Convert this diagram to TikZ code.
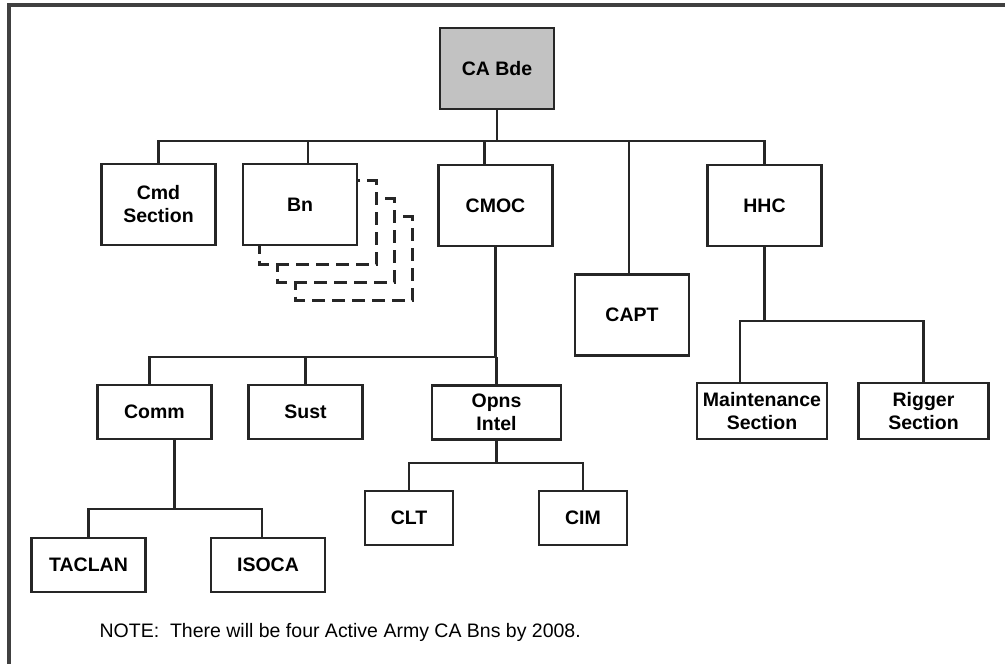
\documentclass[tikz,border=0pt]{standalone}
\usepackage{fontspec}
\setmainfont{Liberation Sans}
\usetikzlibrary{backgrounds}
\begin{document}
\begin{tikzpicture}[x=1pt, y=-1pt, line width=2.6pt, draw=black!85,
  unit/.style={draw=black!85, fill=white, rectangle, align=center, inner sep=0pt,
    font=\bfseries\fontsize{19.5}{23}\selectfont, minimum width=114, minimum height=81},
  low/.style={unit, minimum height=54},
  shade/.style={draw=black!85, fill=white, line width=2.6pt, dash pattern=on 13pt off 7pt}]
 \useasboundingbox (0,0) rectangle (1005,664);
 \draw[line width=3.5pt, black!75] (9,664) -- (9,5) -- (1005,5);

 \node[unit, fill=black!24] (bde) at (497,68.5) {CA Bde};
 \node[unit] (cmd) at (158.5,204.5) {Cmd\\Section};
 \node[unit] (bn) at (300,204.5) {Bn};
 \node[unit] (cmoc) at (495.5,205.5) {CMOC};
 \node[unit] (capt) at (632,315) {CAPT};
 \node[unit] (hhc) at (764.5,205.5) {HHC};
 \node[low] (comm) at (154.5,412) {Comm};
 \node[low] (sust) at (305.5,412) {Sust};
 \node[low, minimum width=129] (opns) at (496.5,412.5) {Opns\\Intel};
 \node[low, minimum width=88] (clt) at (409,518) {CLT};
 \node[low, minimum width=88] (cim) at (583,518) {CIM};
 \node[low] (taclan) at (88.5,565) {TACLAN};
 \node[low] (isoca) at (268,565) {ISOCA};
 \node[low, minimum width=130, minimum height=56] (maint) at (762,411) {Maintenance\\Section};
 \node[low, minimum width=130, minimum height=56] (rigger) at (923.5,411) {Rigger\\Section};
 \node[anchor=west, font=\fontsize{19.5}{23}\selectfont] (note) at (95,632)
   {NOTE:\ \ There will be four Active Army CA Bns by 2008.};

 \begin{scope}[on background layer]
  \foreach \k in {3,2,1}
   \draw[shade] ([shift={(18*\k,18*\k)}]bn.north west) rectangle ([shift={(18*\k,18*\k)}]bn.south east);
 \end{scope}

 \coordinate (bus1) at (0,141);
 \coordinate (bus2) at (0,357);
 \coordinate (bus3) at (0,509);
 \coordinate (bus4) at (0,463);
 \coordinate (bus5) at (0,321);

 \draw (bde.south) -- (bde.south |- bus1);
 \draw (cmd.north) -- (cmd.north |- bus1) -| (hhc.north);
 \draw ([xshift=8]bn.north) -- ([xshift=8]bn.north |- bus1);
 \draw ([xshift=-11]cmoc.north) -- ([xshift=-11]cmoc.north |- bus1);
 \draw ([xshift=-3]capt.north) -- ([xshift=-3]capt.north |- bus1);

 \draw (cmoc.south) -- (cmoc.south |- bus2) -| ([xshift=-5]comm.north);
 \draw (sust.north) -- (sust.north |- bus2);
 \draw (opns.north) -- (opns.north |- bus2);

 \draw (opns.south) -- (opns.south |- bus4);
 \draw (clt.north) -- (clt.north |- bus4) -| (cim.north);

 \draw ([xshift=20]comm.south) -- ([xshift=20]comm.south |- bus3);
 \draw (taclan.north) -- (taclan.north |- bus3) -| ([xshift=-6]isoca.north);

 \draw (hhc.south) -- (hhc.south |- bus5);
 \draw ([xshift=-22]maint.north) -- ([xshift=-22]maint.north |- bus5) -| (rigger.north);
\end{tikzpicture}
\end{document}
